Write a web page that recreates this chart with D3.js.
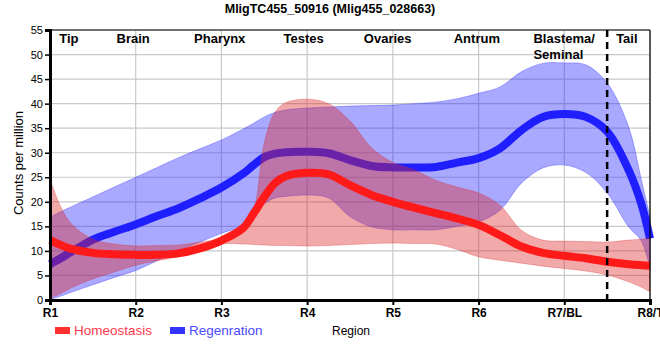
<!DOCTYPE html>
<html><head><meta charset="utf-8">
<script src="https://cdn.jsdelivr.net/npm/d3@7"></script>
<style>
body{margin:0;background:#fff;}
svg{display:block;font-family:"Liberation Sans",Arial,sans-serif;}
</style></head><body>
<svg id="c" width="660" height="360"></svg>
<script>
const title = "MligTC455_50916 (Mlig455_028663)";
const tickLabels = ["R1","R2","R3","R4","R5","R6","R7/BL","R8/T"];
const regionNames = [["Tip"],["Brain"],["Pharynx"],["Testes"],["Ovaries"],["Antrum"],["Blastema/","Seminal"],["Tail"]];
const regionPos = [1.22, 1.97, 2.98, 3.96, 4.94, 5.98, 6.64, 7.73];
const regionAnchor = ["middle","middle","middle","middle","middle","middle","start","middle"];
const yTicks = [0,5,10,15,20,25,30,35,40,45,50,55];
const seriesNames = ["Homeostasis","Regenration"];
const pos = [1,1.125,1.25,1.5,1.75,2,2.25,2.5,2.75,3,3.25,3.375,3.5,3.625,3.75,4,4.25,4.5,4.75,5,5.25,5.5,5.75,6,6.25,6.5,6.75,7,7.25,7.5,7.75,7.9,8];
const regMean  = [7.3,8.5,9.8,12.3,13.9,15.4,17.1,18.7,20.7,22.9,25.7,27.5,29.1,29.8,30.1,30.2,29.9,28.5,27.3,27,27,27.1,28,28.9,30.9,34.6,37.3,37.9,37.3,34.3,26.5,19.5,12.5];
const regUpper = [16.9,18,19,21,23,25,27,29,30.8,32.6,34.8,36,37.3,38.2,38.7,39.1,39.3,39.5,39.6,39.7,40,40.3,41,42.1,43.4,46.5,48.2,48.3,47.9,44.2,35.3,24.4,17];
const regLower = [0.1,0.8,1.6,3.1,4.6,6.0,8,10,11.8,13.6,15.2,17.7,19.6,20.8,21.1,21.4,20.8,17,14.9,14.3,14.3,14.3,15,15.9,18.3,23.8,26.9,27.5,26,21.8,14.9,12,6.5];
const homMean  = [12.2,11.2,10.4,9.6,9.3,9.2,9.2,9.5,10.5,12.1,14.6,17.6,21,23.8,25.2,25.9,25.6,23.4,21.4,20,18.8,17.7,16.6,15.3,13.2,10.9,9.6,9.0,8.5,7.8,7.3,7.1,7.0];
const homUpper = [24.6,19,15.5,12.4,11.4,11,11.1,11.2,11.8,12.6,14.6,18.2,32,38.3,40.2,40.9,40,36.5,31,28,26.5,24.4,23,21.8,19.3,14.2,12.2,12,11.9,11.8,12.2,12.4,12.6];
const homLower = [0.4,1.3,2.5,4.3,5.7,7.1,8.0,8.8,10,11.4,11.4,11.3,11.2,11.1,11.1,11,11.1,11.3,11.5,11.6,11.5,11.4,10.3,8.8,8.1,7.5,6.9,6.4,5.9,5.1,3.7,2.6,1.7];
const divider = 7.5;

const svg = d3.select("#c");
const x = d3.scaleLinear().domain([1,8]).range([50,650]);
const y = d3.scaleLinear().domain([0,55]).range([300,30]);
const curve = d3.curveCatmullRom.alpha(0.5);

// grid
svg.append("g").selectAll("line").data(d3.range(1,9)).join("line")
  .attr("x1",d=>x(d)).attr("x2",d=>x(d)).attr("y1",30).attr("y2",300)
  .attr("stroke","#c8c8c8").attr("stroke-width",1.2);
svg.append("g").selectAll("line").data(yTicks).join("line")
  .attr("x1",50).attr("x2",650).attr("y1",d=>y(d)).attr("y2",d=>y(d))
  .attr("stroke","#c8c8c8").attr("stroke-width",1.2);

const mk = (m)=>pos.map((p,i)=>({p, v:m[i]}));
const area = (up,lo)=>d3.area().x((d,i)=>x(pos[i])).y0((d,i)=>y(lo[i])).y1((d,i)=>y(up[i])).curve(curve);
const line = d3.line().x(d=>x(d.p)).y(d=>y(d.v)).curve(curve);

// regeneration band + line
svg.append("path").attr("d",area(regUpper,regLower)(pos))
  .attr("fill","rgba(40,40,255,0.4)").attr("stroke","rgba(40,40,255,0.35)").attr("stroke-width",1);
svg.append("path").attr("d",line(mk(regMean))).attr("fill","none")
  .attr("stroke","#1e1eff").attr("stroke-width",8);
// homeostasis band + line
svg.append("path").attr("d",area(homUpper,homLower)(pos))
  .attr("fill","rgba(220,40,40,0.4)").attr("stroke","rgba(220,40,40,0.3)").attr("stroke-width",1);
svg.append("path").attr("d",line(mk(homMean))).attr("fill","none")
  .attr("stroke","#ff1a1a").attr("stroke-width",8);

// frame
svg.append("line").attr("x1",50).attr("x2",650).attr("y1",30).attr("y2",30).attr("stroke","#000").attr("stroke-width",1.2);
svg.append("line").attr("x1",650).attr("x2",650).attr("y1",30).attr("y2",300).attr("stroke","#000").attr("stroke-width",1.2);

// divider
svg.append("line").attr("x1",x(divider)).attr("x2",x(divider)).attr("y1",30).attr("y2",305)
  .attr("stroke","#000").attr("stroke-width",2.5).attr("stroke-dasharray","7,5");

// axes
const xAxis = d3.axisBottom(x).tickValues(d3.range(1,9)).tickFormat((d,i)=>tickLabels[i]).tickSize(5).tickPadding(3);
const gx = svg.append("g").attr("transform","translate(0,300)").call(xAxis);
gx.select(".domain").attr("stroke","#000").attr("stroke-width",3);
gx.selectAll(".tick line").attr("stroke","#000").attr("stroke-width",2);
gx.selectAll("text").attr("font-size",12).attr("font-weight","bold").attr("fill","#000")
  .attr("font-family","Liberation Sans, Arial, sans-serif");

const yAxis = d3.axisLeft(y).tickValues(yTicks).tickSize(5).tickPadding(2);
const gy = svg.append("g").attr("transform","translate(50,0)").call(yAxis);
gy.select(".domain").attr("stroke","#000").attr("stroke-width",3);
gy.selectAll(".tick line").attr("stroke","#000").attr("stroke-width",1.5);
gy.selectAll("text").attr("font-size",11).attr("fill","#000")
  .attr("font-family","Liberation Sans, Arial, sans-serif");

// region labels
const rl = svg.append("g");
regionNames.forEach((lines,i)=>{
  const t = rl.append("text").attr("x",x(regionPos[i])).attr("y",43)
    .attr("text-anchor",regionAnchor[i]).attr("font-size",13).attr("font-weight","bold");
  lines.forEach((s,j)=>{
    t.append("tspan").attr("x",x(regionPos[i])).attr("dy",j===0?0:16).text(s);
  });
});

// title
svg.append("text").attr("x",330).attr("y",13).attr("text-anchor","middle")
  .attr("font-size",12.5).attr("font-weight","bold").text(title);

// y label
svg.append("text").attr("transform","translate(23,163) rotate(-90)").attr("text-anchor","middle")
  .attr("font-size",13).text("Counts per million");
// x label
svg.append("text").attr("x",332).attr("y",335).attr("font-size",12).text("Region");

// legend
const lg = [{x:55, c:"#ff3030", tc:"#ff3a4a"},{x:170, c:"#3434ff", tc:"#4a4aff"}];
lg.forEach((l,i)=>{
  svg.append("rect").attr("x",l.x).attr("y",327).attr("width",15).attr("height",7).attr("fill",l.c);
  svg.append("text").attr("x",l.x+19).attr("y",335).attr("font-size",13.5).attr("fill",l.tc).text(seriesNames[i]);
});
</script></body></html>
